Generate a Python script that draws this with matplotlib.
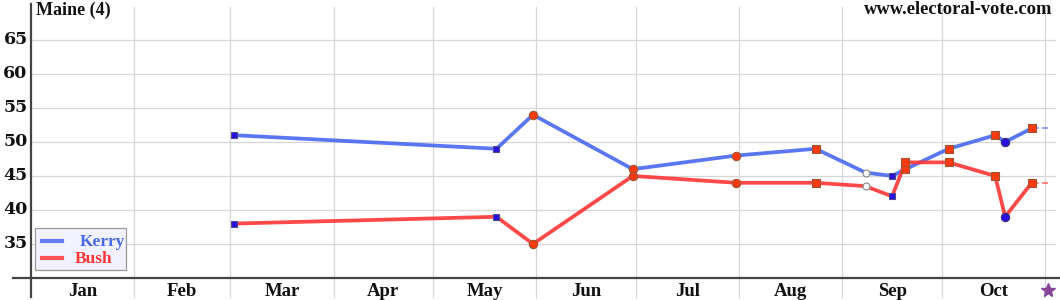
import numpy as np
import matplotlib
matplotlib.use("Agg")
import matplotlib.pyplot as plt
from matplotlib.patches import Rectangle
from matplotlib.lines import Line2D

# ---- data ----
months = ["Jan", "Feb", "Mar", "Apr", "May", "Jun", "Jul", "Aug", "Sep", "Oct"]
poll_dates = ["2004-03-02", "2004-05-20", "2004-05-31", "2004-06-30", "2004-07-31",
              "2004-08-24", "2004-09-08", "2004-09-16", "2004-09-20", "2004-10-03",
              "2004-10-17", "2004-10-20", "2004-10-28"]
kerry = [51, 49, 54, 46, 48, 49, 45.5, 45, 46, 49, 51, 50, 52]
bush = [38, 39, 35, 45, 44, 44, 43.5, 42, 47, 47, 45, 39, 44]
# marker kind of each poll: 'bs' blue square, 'rs' red square, 'ro' red circle,
# 'bo' blue circle, 'ho' hollow circle
poll_kind = ["bs", "bs", "ro", "ro", "ro", "rs", "ho", "bs", "rs", "rs", "rs", "bo", "rs"]
yticks = [35, 40, 45, 50, 55, 60, 65]
election_day = "2004-11-02"
title = "Maine (4)"
site = "www.electoral-vote.com"
series_names = ["Kerry", "Bush"]

start = np.datetime64("2004-01-01")
def day(s):
    return float((np.datetime64(s) - start) / np.timedelta64(1, "D"))

x = np.array([day(d) for d in poll_dates])
eday = day(election_day)
month_starts = [day("2004-%02d-01" % m) for m in range(1, 12)]

KBLUE = "#4868f0"
BRED = "#ff3535"
FONT = ["Liberation Serif", "DejaVu Serif"]
NUMFONT = ["DejaVu Serif"]

W, H = 1060, 300
fig = plt.figure(figsize=(10.6, 3.0), dpi=100)
ax = fig.add_axes([0, 0, 1, 1])
ax.set_xlim(-9.32, 309.5)
ax.set_ylim(26.76, 70.88)
ax.axis("off")

# grid
for v in yticks:
    ax.plot([0, 308], [v, v], color="#d6d6d6", lw=0.9, zorder=1)
for ms in month_starts[1:]:
    ax.plot([ms, ms], [27.2, 69.9], color="#d6d6d6", lw=0.9, zorder=1)

# axes lines
ax.plot([-5.4, 309.5], [30, 30], color="#444444", lw=1.6, zorder=2)
ax.plot([0, 0], [27.2, 70.3], color="#444444", lw=1.6, zorder=2)

# labels
for v in yticks:
    ax.text(-1.0, v, str(v), ha="right", va="center", fontsize=12.5,
            fontweight="bold", family=NUMFONT, color="#111111")
for i, m in enumerate(months):
    mid = (month_starts[i] + month_starts[i + 1]) / 2
    ax.text(mid, 28.0, m, ha="center", va="center", fontsize=13.5,
            fontweight="bold", family=FONT, color="#111111")
ax.text(0.034, 0.995, title, transform=ax.transAxes, ha="left", va="top",
        fontsize=13, fontweight="bold", family=FONT, color="#111111")
ax.text(0.993, 0.995, site, transform=ax.transAxes, ha="right", va="top",
        fontsize=13.3, fontweight="bold", family=FONT, color="#111111")

# lines
ax.plot(x, kerry, color=KBLUE, lw=2.7, alpha=0.9, zorder=3, solid_capstyle="round")
ax.plot(x, bush, color=BRED, lw=2.7, alpha=0.9, zorder=3, solid_capstyle="round")
ax.plot([x[-1], eday], [kerry[-1], kerry[-1]], color=KBLUE, lw=1.2, ls=(0, (4, 2)), alpha=0.7, zorder=3)
ax.plot([x[-1], eday], [bush[-1], bush[-1]], color=BRED, lw=1.2, ls=(0, (4, 2)), alpha=0.7, zorder=3)

styles = {
    "bs": dict(marker="s", ms=5, mfc="#2a10e0", mec="#4a4a8a"),
    "rs": dict(marker="s", ms=5.5, mfc="#ff3a10", mec="#995533"),
    "ro": dict(marker="o", ms=6, mfc="#ff3a10", mec="#995533"),
    "bo": dict(marker="o", ms=6, mfc="#2a10e0", mec="#333377"),
    "ho": dict(marker="o", ms=5, mfc="white", mec="#888888"),
}
for xi, k, b, kind in zip(x, kerry, bush, poll_kind):
    st = styles[kind]
    ax.plot([xi, xi], [k, b], ls="none", mew=0.8, zorder=4, **st)

# election day star
ax.plot([eday], [28.3], marker="*", ms=10, color="#884499", mec="#884499", zorder=4,
        clip_on=False)

# legend (drawn by hand, figure-fraction coordinates)
fig.patches.append(Rectangle((35 / W, 1 - 270 / H), 91 / W, 42 / H,
                             transform=fig.transFigure, facecolor="#f2f2ff",
                             edgecolor="#999999", lw=0.9, zorder=5))
for name, col, ypx, xtxt in zip(series_names, [KBLUE, BRED], [241, 258], [80, 75]):
    fig.lines.append(Line2D([42 / W, 62 / W], [1 - ypx / H] * 2, transform=fig.transFigure,
                            color=col, lw=3, alpha=0.85, zorder=6))
    fig.text(xtxt / W, 1 - (ypx + 1) / H, name, ha="left", va="center", color=col,
             fontsize=12.5, fontweight="bold", family=FONT, zorder=6)

fig.savefig("out.png", dpi=100)
